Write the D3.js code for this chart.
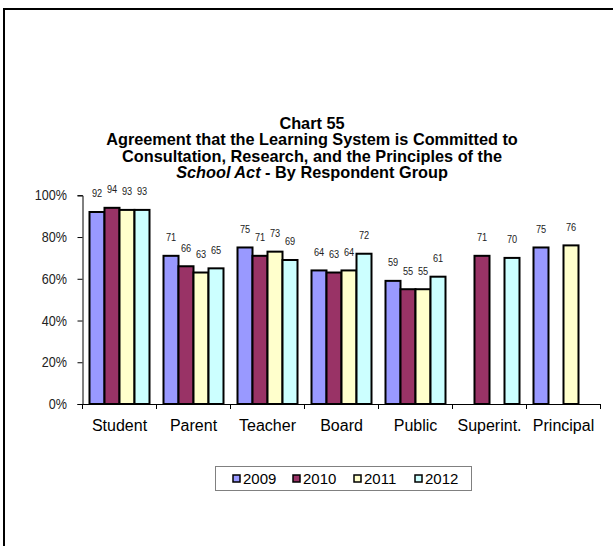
<!DOCTYPE html>
<html><head><meta charset="utf-8">
<script src="https://cdn.jsdelivr.net/npm/d3@7"></script>
<style>
body{margin:0;background:#fff;}
svg{display:block;}
</style></head>
<body>
<svg id="chart" width="613" height="546"></svg>
<script>
const categories = ["Student","Parent","Teacher","Board","Public","Superint.","Principal"];
const years = ["2009","2010","2011","2012"];
const values2009 = [92,71,75,64,59,null,75];
const values2010 = [94,66,71,63,55,71,null];
const values2011 = [93,63,73,64,55,null,76];
const values2012 = [93,65,69,72,61,70,null];
const colors = ["#9999FF","#993366","#FFFFCC","#CCFFFF"];
const yTicks = [0,0.2,0.4,0.6,0.8,1.0];
const titleLines = ["Chart 55","Agreement that the Learning System is Committed to","Consultation, Research, and the Principles of the"];

const series = [values2009, values2010, values2011, values2012];
const svg = d3.select("#chart");

// outer frame
svg.append("line").attr("x1",4).attr("x2",613).attr("y1",9).attr("y2",9).attr("stroke","#000").attr("stroke-width",2);
svg.append("line").attr("x1",4).attr("x2",4).attr("y1",8).attr("y2",546).attr("stroke","#000").attr("stroke-width",2);

// title
const tfont = "'Liberation Sans', Arial, sans-serif";
const titleY = [128.5, 145, 161.5];
titleLines.forEach((t,i)=>{
  svg.append("text").attr("x",312).attr("y",titleY[i]).attr("text-anchor","middle")
    .attr("font-family",tfont).attr("font-weight","bold").attr("font-size","16.3px").text(t);
});
const t4 = svg.append("text").attr("x",312).attr("y",178).attr("text-anchor","middle")
  .attr("font-family",tfont).attr("font-weight","bold").attr("font-size","16.3px");
t4.append("tspan").attr("font-style","italic").text("School Act");
t4.append("tspan").text(" - By Respondent Group");

const x0 = d3.scaleBand().domain(categories).range([82.5,600.5]).padding(0);
const x1 = d3.scaleBand().domain(years).range([7, x0.bandwidth()-7]).padding(0);
const y = d3.scaleLinear().domain([0,1]).range([404,195.3]);

// y axis
const yAxis = svg.append("g").attr("transform","translate(82.5,0)")
  .call(d3.axisLeft(y).tickValues(yTicks).tickFormat(d3.format(".0%")).tickSize(5).tickPadding(10.5));
yAxis.select(".domain").attr("stroke","#000");
yAxis.selectAll("line").attr("stroke","#000");
yAxis.selectAll(".tick text").attr("font-family",tfont).attr("font-size","14px").attr("fill","#222")
  .attr("transform","scale(0.9,1)").attr("x",-15.5/0.9);

// x axis
const xAxis = svg.append("g").attr("transform","translate(0,404)")
  .call(d3.axisBottom(x0).tickSize(0).tickPadding(15.6));
xAxis.select(".domain").attr("stroke","#000");
xAxis.selectAll("text").attr("font-family",tfont).attr("font-size","16px").attr("fill","#000");
// category boundary ticks
const bounds = categories.map(c=>x0(c)).concat([x0.range()[1]]);
svg.append("g").selectAll("line").data(bounds).join("line")
  .attr("x1",d=>d).attr("x2",d=>d).attr("y1",404).attr("y2",409).attr("stroke","#000");

// bars
const flat = [];
series.forEach((vals,si)=>vals.forEach((v,ci)=>{ if(v!=null) flat.push({cat:categories[ci],year:years[si],v,si}); }));
svg.append("g").selectAll("rect").data(flat).join("rect")
  .attr("x",d=>x0(d.cat)+x1(d.year))
  .attr("y",d=>y(d.v/100))
  .attr("width",x1.bandwidth())
  .attr("height",d=>y(0)-y(d.v/100))
  .attr("fill",d=>colors[d.si])
  .attr("stroke","#000").attr("stroke-width",2);

// data labels
svg.append("g").selectAll("text").data(flat).join("text")
  .attr("transform",d=>`translate(${x0(d.cat)+x1(d.year)+x1.bandwidth()/2},${y(d.v/100)-14.5}) scale(0.8,1)`)
  .attr("text-anchor","middle")
  .attr("font-family",tfont)
  .attr("font-size","11.5px").attr("fill","#222").text(d=>d.v);

// legend
const lg = svg.append("g");
lg.append("rect").attr("x",215.5).attr("y",466.5).attr("width",256).attr("height",24)
  .attr("fill","#fff").attr("stroke","#808080").attr("stroke-width",1);
const legX = [233,293,354,415];
years.forEach((yr,i)=>{
  lg.append("rect").attr("x",legX[i]).attr("y",475).attr("width",7).attr("height",7)
    .attr("fill",colors[i]).attr("stroke","#000").attr("stroke-width",1.5);
  lg.append("text").attr("x",legX[i]+10).attr("y",483.5).attr("font-family",tfont)
    .attr("font-size","15px").attr("fill","#000").text(yr);
});
</script>
</body></html>
